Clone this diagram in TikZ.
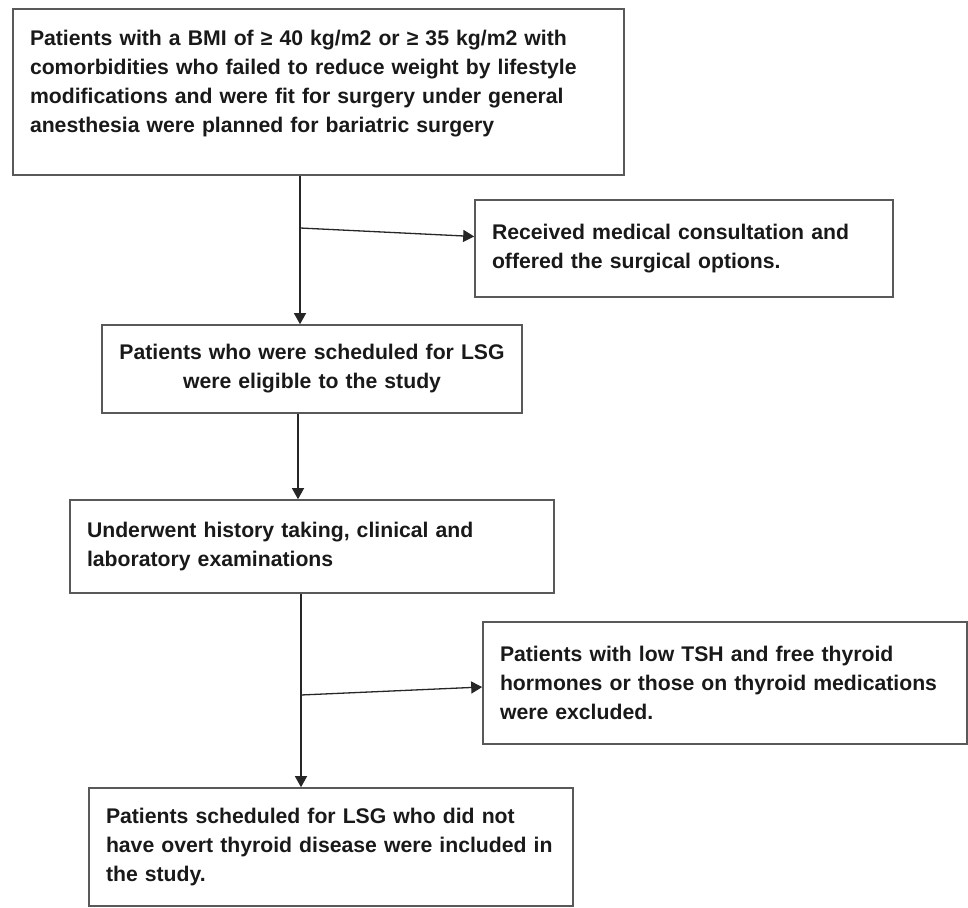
\documentclass[tikz,border=0pt]{standalone}
\usepackage{fontspec}
\setmainfont{Liberation Sans}
\usetikzlibrary{arrows.meta,positioning}

\begin{document}
\begin{tikzpicture}[x=0.5pt, y=-0.5pt,
  every node/.style={font=\bfseries\fontsize{10.6}{14.5}\selectfont, text=black!90},
  flowbox/.style={draw=black!65, line width=0.8pt, inner xsep=8.5pt, inner ysep=0pt, align=left},
  flowline/.style={draw=black!85, line width=0.65pt},
  flowarrow/.style={flowline, -{Triangle[width=6pt,length=5.5pt]}}]
  \useasboundingbox (0,0) rectangle (968,908);
  % candidates for bariatric surgery
  \node[flowbox, minimum width=305.5pt, minimum height=83pt, text width=288.5pt, text depth=54pt] (bmi) at (318.5,92)
    {Patients with a BMI of ≥ 40 kg/m2 or ≥ 35 kg/m2 with\\
     comorbidities who failed to reduce weight by lifestyle\\
     modifications and were fit for surgery under general\\
     anesthesia were planned for bariatric surgery};
  \node[flowbox, minimum width=209pt, minimum height=48.5pt, text width=192pt] (consult) at (684,248.5)
    {Received medical consultation and\\ offered the surgical options.};
  % eligible
  \node[flowbox, align=center, inner xsep=4pt, minimum width=210pt, minimum height=44pt, text width=202pt] (lsg) at (312,369)
    {Patients who were scheduled for LSG\\ were eligible to the study};
  \node[flowbox, minimum width=242pt, minimum height=46.5pt, text width=225pt] (history) at (312,546.5)
    {Underwent history taking, clinical and\\ laboratory examinations};
  % exclusion and final sample
  \node[flowbox, minimum width=242pt, minimum height=61pt, text width=225pt] (excluded) at (725,683)
    {Patients with low TSH and free thyroid\\ hormones or those on thyroid medications\\ were excluded.};
  \node[flowbox, minimum width=242pt, minimum height=59pt, text width=225pt] (included) at (331,847)
    {Patients scheduled for LSG who did not\\ have overt thyroid disease were included in\\ the study.};
  % connectors
  \coordinate (split1) at (300,228);
  \coordinate (split2) at (301,695);
  \draw[flowline] (bmi.south -| split1) -- (split1);
  \draw[flowarrow] (split1) -- (split1 |- lsg.north);
  \draw[flowarrow] (split1) -- ([yshift=6pt]consult.west);
  \draw[flowarrow] ([xshift=-7pt]lsg.south) -- ([xshift=-7pt]lsg.south |- history.north);
  \draw[flowline] (history.south -| split2) -- (split2);
  \draw[flowarrow] (split2) -- (split2 |- included.north);
  \draw[flowarrow] (split2) -- ([yshift=-2pt]excluded.west);
\end{tikzpicture}
\end{document}
